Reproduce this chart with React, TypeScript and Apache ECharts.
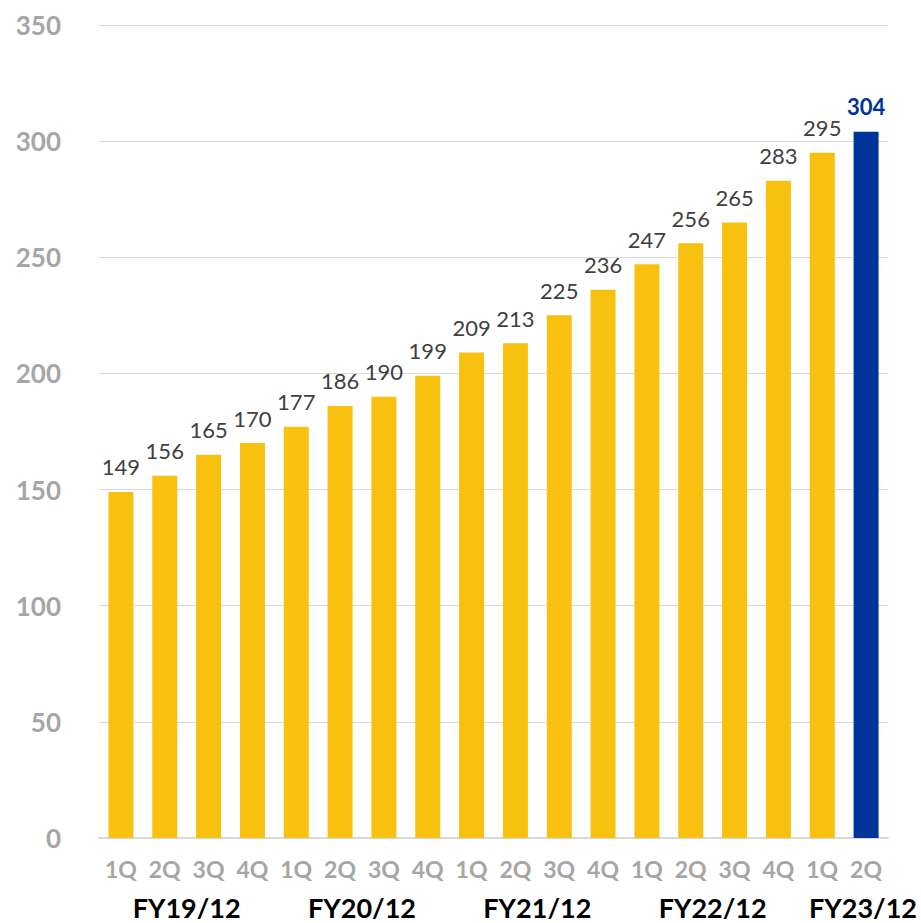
import React, { useEffect, useRef } from "react";
import * as echarts from "echarts";

// Quarterly values, FY19/12 1Q through FY23/12 2Q
const quarters = [
  "1Q", "2Q", "3Q", "4Q",
  "1Q", "2Q", "3Q", "4Q",
  "1Q", "2Q", "3Q", "4Q",
  "1Q", "2Q", "3Q", "4Q",
  "1Q", "2Q",
];
const values = [149, 156, 165, 170, 177, 186, 190, 199, 209, 213, 225, 236, 247, 256, 265, 283, 295, 304];

// Fiscal-year groups: label, first and last quarter index
const fiscalYears = ["FY19/12", "FY20/12", "FY21/12", "FY22/12", "FY23/12"];
const fyFirst = [0, 4, 8, 12, 16];
const fyLast = [3, 7, 11, 15, 17];

const yTicks = { min: 0, max: 350, interval: 50 };

const YELLOW = "#F8C10F";
const NAVY = "#00349B";
const FONT = "Lato, 'Noto Sans', sans-serif";

const FY_FONT_SIZE = 27;

export default function App() {
  const ref = useRef<HTMLDivElement>(null);

  useEffect(() => {
    if (!ref.current) return;
    const chart = echarts.init(ref.current, undefined, { renderer: "svg" });
    const last = values.length - 1;

    chart.setOption({
      animation: false,
      backgroundColor: "#ffffff",
      grid: { left: 99, right: 33, top: 25, bottom: 85, containLabel: false },
      xAxis: {
        type: "category",
        data: quarters,
        axisLine: { show: true, lineStyle: { color: "#d9d9d9", width: 2 } },
        axisTick: { show: false },
        axisLabel: {
          color: "#a6a6a6",
          fontFamily: FONT,
          fontWeight: "bold",
          fontSize: 23,
          margin: 19,
          interval: 0,
        },
      },
      yAxis: {
        type: "value",
        min: yTicks.min,
        max: yTicks.max,
        interval: yTicks.interval,
        axisLine: { show: false },
        axisTick: { show: false },
        splitLine: { lineStyle: { color: "#d9d9d9", width: 1 } },
        axisLabel: {
          color: "#a6a6a6",
          fontFamily: FONT,
          fontWeight: "bold",
          fontSize: 26,
          margin: 38,
        },
      },
      series: [
        {
          type: "bar",
          barWidth: 25,
          data: values.map((v, i) => ({
            value: v,
            itemStyle: { color: i === last ? NAVY : YELLOW },
            label: i === last
              ? { color: NAVY, fontWeight: "bold" }
              : { color: "#404040", fontWeight: "normal" },
          })),
          label: {
            show: true,
            position: "top",
            distance: 14,
            fontFamily: FONT,
            fontSize: 22,
          },
        },
      ],
    });

    // Fiscal-year labels centred under their quarter groups;
    // the current (partial) year is set flush against the right edge.
    const width = ref.current.clientWidth;
    const graphics = fiscalYears.map((name, g) => {
      const a = chart.convertToPixel({ xAxisIndex: 0 }, fyFirst[g]) as number;
      const b = chart.convertToPixel({ xAxisIndex: 0 }, fyLast[g]) as number;
      const isLast = g === fiscalYears.length - 1;
      return {
        type: "text",
        x: isLast ? width - 4 : (a + b) / 2,
        y: 907,
        style: {
          text: name,
          fill: "#000000",
          font: `bold ${FY_FONT_SIZE}px ${FONT}`,
          align: isLast ? "right" : "center",
          verticalAlign: "middle",
        },
      };
    });
    chart.setOption({ graphic: graphics });

    return () => chart.dispose();
  }, []);

  return (
    <div
      ref={ref}
      style={{ position: "fixed", left: 0, top: 0, width: 921, height: 923, background: "#fff" }}
    />
  );
}
